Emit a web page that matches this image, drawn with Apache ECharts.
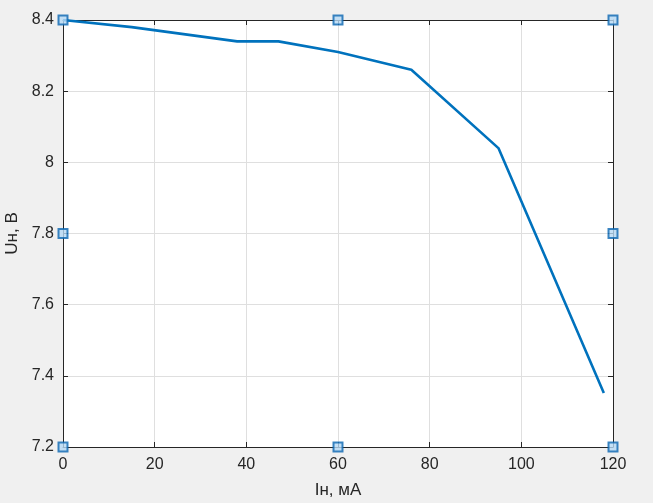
<!DOCTYPE html>
<html><head><meta charset="utf-8">
<script src="https://cdn.jsdelivr.net/npm/echarts@6/dist/echarts.min.js"></script>
<style>html,body{margin:0;padding:0;background:#f0f0f0}#c{width:653px;height:503px}</style>
</head><body><div id="c"></div>
<script>
const currentMA = [0, 15, 38, 47, 60, 76, 95, 118];
const voltageV = [8.4, 8.38, 8.34, 8.34, 8.31, 8.26, 8.04, 7.352];
const handleX = [0, 60, 120, 0, 120, 0, 60, 120];
const handleY = [8.4, 8.4, 8.4, 7.8, 7.8, 7.2, 7.2, 7.2];
const xTicks = [0, 20, 40, 60, 80, 100, 120];
const yTicks = [7.2, 7.4, 7.6, 7.8, 8, 8.2, 8.4];

const chart = echarts.init(document.getElementById('c'), null, {renderer: 'canvas'});
const font = 'Helvetica, Arial, "Liberation Sans", sans-serif';
const axisCol = '#262626';
const base = {
  axisLine: {show: true, onZero: false, lineStyle: {color: axisCol, width: 1}},
  axisTick: {show: true, inside: true, length: 5, lineStyle: {color: axisCol}},
  minorTick: {show: false}
};
chart.setOption({
  backgroundColor: '#f0f0f0',
  animation: false,
  grid: {left: 63, right: 40, top: 20, bottom: 56, show: true, backgroundColor: '#ffffff', borderWidth: 0,
         containLabel: false, outerBoundsMode: 'none'},
  xAxis: [
    Object.assign({}, base, {type: 'value', min: 0, max: 120, interval: 20, position: 'bottom',
      axisLabel: {color: axisCol, fontSize: 16, fontFamily: font, margin: 10, formatter: v => xTicks.includes(v) ? String(v) : ''},
      splitLine: {show: true, lineStyle: {color: '#dfdfdf', width: 1}},
      name: 'Iн, мА', nameLocation: 'middle', nameGap: 35,
      nameTextStyle: {color: axisCol, fontSize: 17, fontFamily: font}}),
    Object.assign({}, base, {type: 'value', min: 0, max: 120, interval: 20, position: 'top',
      axisLabel: {show: false}, splitLine: {show: false}})
  ],
  yAxis: [
    Object.assign({}, base, {type: 'value', min: 7.2, max: 8.4, interval: 0.2, position: 'left',
      axisLabel: {color: axisCol, fontSize: 16, fontFamily: font, margin: 9,
        formatter: v => { const r = Math.round(v*10)/10; return yTicks.includes(r) ? String(r) : ''; }},
      splitLine: {show: true, lineStyle: {color: '#dfdfdf', width: 1}},
      name: 'Uн, В', nameLocation: 'middle', nameGap: 40, nameRotate: 90,
      nameTextStyle: {color: axisCol, fontSize: 17, fontFamily: font}}),
    Object.assign({}, base, {type: 'value', min: 7.2, max: 8.4, interval: 0.2, position: 'right',
      axisLabel: {show: false}, splitLine: {show: false}})
  ],
  series: [
    {type: 'line', data: currentMA.map((x, i) => [x, voltageV[i]]), showSymbol: false,
     lineStyle: {color: '#0072bd', width: 2.6}, z: 3},
    {type: 'scatter', data: handleX.map((x, i) => [x, handleY[i]]), symbol: 'rect', symbolSize: 9,
     itemStyle: {color: '#b7daf5', borderColor: '#0b67b2', borderWidth: 2}, z: 5}
  ]
});
</script></body></html>
